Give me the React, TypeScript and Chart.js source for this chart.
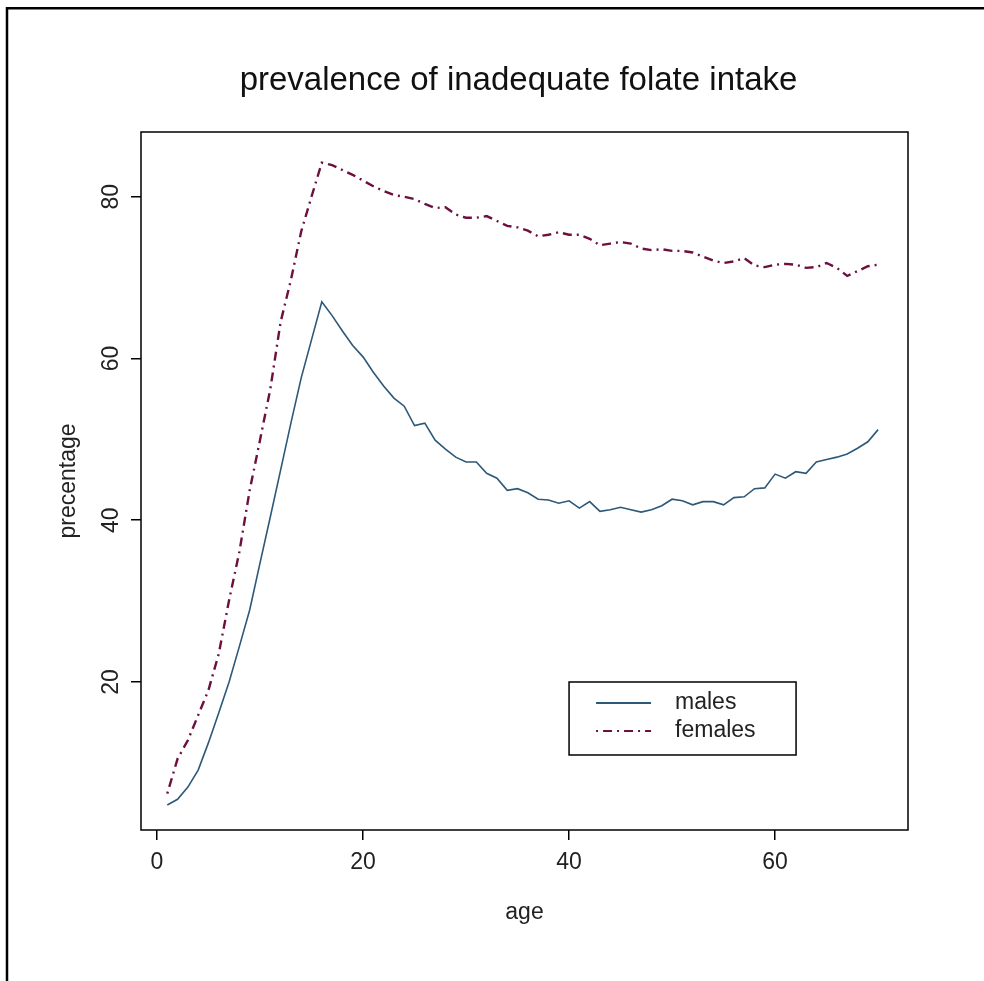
import React, { useEffect, useRef } from "react";
import { Chart, registerables } from "chart.js";

Chart.register(...registerables);

const ages = [1,2,3,4,5,6,7,8,9,10,11,12,13,14,15,16,17,18,19,20,21,22,23,24,25,26,27,28,29,30,31,32,33,34,35,36,37,38,39,40,41,42,43,44,45,46,47,48,49,50,51,52,53,54,55,56,57,58,59,60,61,62,63,64,65,66,67,68,69,70];

const males = [4.8,5.5,7.0,9.1,12.5,16.2,20.0,24.4,28.9,34.7,40.4,46.2,52.0,57.6,62.3,67.0,65.3,63.4,61.6,60.2,58.3,56.6,55.1,54.1,51.7,52.0,49.9,48.8,47.8,47.2,47.2,45.8,45.2,43.7,43.9,43.4,42.6,42.5,42.1,42.4,41.5,42.3,41.1,41.3,41.6,41.3,41.0,41.3,41.8,42.6,42.4,41.9,42.3,42.3,41.9,42.8,42.9,43.9,44.0,45.7,45.2,46.0,45.8,47.2,47.5,47.8,48.2,48.9,49.7,51.2];

const females = [6.2,10.5,12.8,15.9,19.0,23.5,30.1,36.1,43.7,49.9,56.2,64.5,69.7,75.7,80.0,84.2,83.9,83.3,82.7,82.0,81.3,80.7,80.2,80.0,79.7,79.1,78.6,78.7,77.8,77.4,77.4,77.6,77.0,76.4,76.2,75.8,75.1,75.3,75.6,75.3,75.3,74.8,74.0,74.2,74.4,74.2,73.6,73.4,73.5,73.3,73.3,73.1,72.6,72.1,71.8,72.0,72.4,71.5,71.3,71.6,71.7,71.6,71.2,71.3,71.8,71.2,70.2,70.8,71.4,71.6];

const xTicks = [0, 20, 40, 60];
const yTicks = [20, 40, 60, 80];
const seriesNames = ["males", "females"];
const titleText = "prevalence of inadequate folate intake";
const xTitle = "age";
const yTitle = "precentage";
const legendAnchor = { x: 40, y: 20 };

const MALE_COLOR = "#2d5878";
const FEMALE_COLOR = "#6d0f3f";
const FONT = "'Liberation Sans', Arial, sans-serif";
const FEMALE_DASH = [2, 5, 9, 5];
const TXT = 23;

const decorPlugin = {
  id: "decor",
  beforeDraw(chart: any) {
    const ctx = chart.ctx;
    ctx.save();
    ctx.fillStyle = "#ffffff";
    ctx.fillRect(0, 0, chart.width, chart.height);
    ctx.strokeStyle = "#000";
    ctx.lineWidth = 2.5;
    ctx.beginPath();
    ctx.moveTo(7, chart.height);
    ctx.lineTo(7, 8.3);
    ctx.lineTo(chart.width, 8.3);
    ctx.stroke();
    ctx.restore();
  },
  afterDraw(chart: any) {
    const ctx = chart.ctx;
    const area = chart.chartArea;
    const xs = chart.scales.x;
    const ys = chart.scales.y;
    ctx.save();
    // plot box
    ctx.strokeStyle = "#000";
    ctx.lineWidth = 1.5;
    ctx.strokeRect(area.left, area.top, area.right - area.left, area.bottom - area.top);

    // title
    ctx.fillStyle = "#111";
    ctx.font = `33px ${FONT}`;
    ctx.textAlign = "center";
    ctx.textBaseline = "alphabetic";
    ctx.fillText(titleText, 518.5, 90);

    // rotated y tick labels
    ctx.font = `${TXT}px ${FONT}`;
    ctx.fillStyle = "#222";
    for (const v of yTicks) {
      const py = ys.getPixelForValue(v);
      ctx.save();
      ctx.translate(112, py);
      ctx.rotate(-Math.PI / 2);
      ctx.textAlign = "center";
      ctx.textBaseline = "middle";
      ctx.fillText(String(v), 0, 0);
      ctx.restore();
    }

    // legend
    const lx = xs.getPixelForValue(legendAnchor.x);
    const ly = ys.getPixelForValue(legendAnchor.y);
    const lw = 227;
    const lh = 73;
    ctx.strokeStyle = "#000";
    ctx.lineWidth = 1.5;
    ctx.strokeRect(lx, ly, lw, lh);
    const rows = [
      { name: seriesNames[0], color: MALE_COLOR, dash: [] as number[], width: 2, dy: 21 },
      { name: seriesNames[1], color: FEMALE_COLOR, dash: FEMALE_DASH, width: 2, dy: 49 },
    ];
    for (const r of rows) {
      ctx.save();
      ctx.strokeStyle = r.color;
      ctx.lineWidth = r.width;
      ctx.setLineDash(r.dash);
      ctx.beginPath();
      ctx.moveTo(lx + 27, ly + r.dy);
      ctx.lineTo(lx + 82, ly + r.dy);
      ctx.stroke();
      ctx.restore();
      ctx.fillStyle = "#222";
      ctx.font = `${TXT}px ${FONT}`;
      ctx.textAlign = "left";
      ctx.textBaseline = "middle";
      ctx.fillText(r.name, lx + 106, ly + r.dy);
    }
    ctx.restore();
  },
};

export default function App() {
  const canvasRef = useRef<HTMLCanvasElement | null>(null);

  useEffect(() => {
    const canvas = canvasRef.current;
    if (!canvas) return;
    const chart = new Chart(canvas, {
      type: "line",
      data: {
        datasets: [
          {
            label: seriesNames[0],
            data: ages.map((a, i) => ({ x: a, y: males[i] })),
            borderColor: MALE_COLOR,
            borderWidth: 1.6,
            pointRadius: 0,
            tension: 0,
            fill: false,
          },
          {
            label: seriesNames[1],
            data: ages.map((a, i) => ({ x: a, y: females[i] })),
            borderColor: FEMALE_COLOR,
            borderWidth: 2.4,
            borderDash: FEMALE_DASH,
            pointRadius: 0,
            tension: 0,
            fill: false,
          },
        ],
      },
      options: {
        animation: false,
        responsive: false,
        devicePixelRatio: 1,
        layout: { padding: { top: 132, right: 76, bottom: 0, left: 0 } },
        plugins: {
          legend: { display: false },
          title: { display: false },
          tooltip: { enabled: false },
        },
        scales: {
          x: {
            type: "linear",
            min: -1.55,
            max: 72.9,
            afterBuildTicks: (scale: any) => {
              scale.ticks = xTicks.map((v) => ({ value: v }));
            },
            afterFit: (scale: any) => {
              scale.height = 151;
            },
            grid: {
              drawOnChartArea: false,
              drawTicks: true,
              tickLength: 10,
              color: "#000",
              lineWidth: 1.5,
            },
            border: { display: false },
            ticks: {
              color: "#222",
              font: { family: FONT, size: TXT },
              padding: 9,
              maxRotation: 0,
              autoSkip: false,
            },
            title: {
              display: true,
              text: xTitle,
              color: "#222",
              font: { family: FONT, size: TXT },
              padding: { top: 0, bottom: 55 },
            },
          },
          y: {
            type: "linear",
            min: 1.7,
            max: 88.0,
            afterBuildTicks: (scale: any) => {
              scale.ticks = yTicks.map((v) => ({ value: v }));
            },
            afterFit: (scale: any) => {
              scale.width = 141;
            },
            grid: {
              drawOnChartArea: false,
              drawTicks: true,
              tickLength: 10,
              color: "#000",
              lineWidth: 1.5,
            },
            border: { display: false },
            ticks: { display: false },
            title: {
              display: true,
              text: yTitle,
              color: "#222",
              font: { family: FONT, size: TXT },
              padding: { top: 55, bottom: 0 },
            },
          },
        },
      },
      plugins: [decorPlugin],
    } as any);
    return () => chart.destroy();
  }, []);

  return (
    <div style={{ position: "absolute", left: 0, top: 0, width: 984, height: 981 }}>
      <canvas ref={canvasRef} width={984} height={981} style={{ width: 984, height: 981, display: "block" }} />
    </div>
  );
}
